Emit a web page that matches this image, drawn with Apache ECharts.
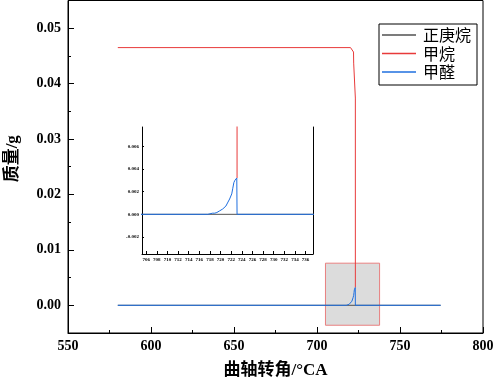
<!DOCTYPE html>
<html><head><meta charset="utf-8">
<script src="https://cdn.jsdelivr.net/npm/echarts@6/dist/echarts.min.js"></script>
<style>html,body{margin:0;padding:0;background:#fff}#c{width:496px;height:386px}</style>
</head><body><div id="c"></div>
<script>
const seriesNames = ['正庚烷', '甲烷', '甲醛'];
const heptane = [[580, 0], [774.5, 0]];
const methane = [[580, 0.0465], [720.2, 0.0465], [721.2, 0.0462], [722.0, 0.0457], [722.1, 0.0437], [723.0, 0.0436], [723.1, 0.0374], [723.1, 0.0032]];
const formaldehyde = [[580, 0], [717.6, 0], [717.6, 0.00007], [718.5, 0.0001], [718.9, 0.0001], [719.3, 0.00016], [719.8, 0.0003], [720.4, 0.00047], [721.0, 0.00073], [721.3, 0.001], [721.7, 0.00135], [722.1, 0.0018], [722.3, 0.0023], [722.5, 0.0028], [722.7, 0.003], [722.85, 0.0031], [723.05, 0.0032], [723.1, 0.0032], [723.1, 0], [774.5, 0]];
const mainYLabels = [0, 0.01, 0.02, 0.03, 0.04, 0.05];
const mainYMinor = [0.005, 0.015, 0.025, 0.035, 0.045];
const insetXLabels = [706, 708, 710, 712, 714, 716, 718, 720, 722, 724, 726, 728, 730, 732, 734, 736];
const insetYLabels = [-0.002, 0, 0.002, 0.004, 0.006];
const zoomBox = [705.1, 737.7, -0.0036, 0.0076];

const colors = ['#505050', '#e83a3a', '#1f6fdf'];
const serif = '"Liberation Serif", "Times New Roman", "Noto Sans CJK SC", serif';
const chart = echarts.init(document.getElementById('c'));
const lineSeries = (name, data, idx, xi, yi) => ({
  name, type: 'line', data, xAxisIndex: xi, yAxisIndex: yi, symbol: 'none', showSymbol: false,
  lineStyle: { color: colors[idx], width: 1 }, itemStyle: { color: colors[idx] },
  animation: false, clip: true, z: 2 + idx
});
const datasets = [heptane, methane, formaldehyde];
const series = [];
datasets.forEach((d, i) => series.push(lineSeries(seriesNames[i], d, i, 0, 0)));
datasets.forEach((d, i) => series.push(lineSeries(seriesNames[i], d, i, 1, 2)));
series.push({
  type: 'line', xAxisIndex: 0, yAxisIndex: 0, data: [[zoomBox[0], zoomBox[3]]], symbol: 'none',
  lineStyle: { opacity: 0 }, z: 10, animation: false,
  markArea: {
    silent: true,
    itemStyle: { color: 'rgba(205,205,205,0.7)', borderColor: '#e88080', borderWidth: 1 },
    data: [[{ coord: [zoomBox[0], zoomBox[3]] }, { coord: [zoomBox[1], zoomBox[2]] }]]
  }
});

chart.setOption({
  animation: false,
  legend: {
    data: seriesNames, orient: 'vertical', left: 379, top: 24, icon: 'rect',
    padding: [3, 6, 5, 3], itemWidth: 34, itemHeight: 1.3, itemGap: 2.5,
    borderColor: '#000', borderWidth: 1, backgroundColor: '#fff',
    textStyle: { fontFamily: '"Noto Sans CJK SC", sans-serif', fontSize: 16, color: '#000', padding: [0, 0, 0, 2] }
  },
  grid: [
    { left: 68, top: 0.5, right: 13, bottom: 53, show: true, borderColor: '#000', borderWidth: 1, backgroundColor: 'transparent', containLabel: false, outerBoundsMode: 'none' },
    { left: 142, top: 127, width: 171, height: 127, containLabel: false, outerBoundsMode: 'none' }
  ],
  xAxis: [
    {
      type: 'value', gridIndex: 0, min: 550, max: 800, interval: 50,
      name: '曲轴转角/°CA', nameLocation: 'middle', nameGap: 29,
      nameTextStyle: { fontFamily: serif, fontWeight: 'bold', fontSize: 17, color: '#000' },
      axisLine: { onZero: false, lineStyle: { color: '#000', width: 1 } },
      axisTick: { inside: true, length: 6, lineStyle: { color: '#000' } },
      minorTick: { show: true, splitNumber: 2, length: 3, lineStyle: { color: '#000' } },
      splitLine: { show: false },
      axisLabel: { fontFamily: serif, fontWeight: 'bold', fontSize: 14, color: '#000', margin: 6 }
    },
    {
      type: 'value', gridIndex: 1, min: 705.2, max: 737.4,
      axisLine: { onZero: false, lineStyle: { color: '#000', width: 1 } },
      axisTick: { inside: true, length: 3, customValues: insetXLabels, lineStyle: { color: '#000' } },
      splitLine: { show: false },
      axisLabel: { customValues: insetXLabels, fontFamily: serif, fontWeight: 'bold', fontSize: 5, color: '#000', margin: 3 }
    }
  ],
  yAxis: [
    {
      type: 'value', gridIndex: 0, min: -0.005, max: 0.055, position: 'left',
      name: '质量/g', nameLocation: 'middle', nameGap: 47,
      nameTextStyle: { fontFamily: serif, fontWeight: 'bold', fontSize: 17, color: '#000', padding: [0, 0, 0, 16] },
      axisLine: { show: true, onZero: false, lineStyle: { color: '#000', width: 1 } },
      axisTick: { inside: true, length: 6, customValues: mainYLabels, lineStyle: { color: '#000' } },
      splitLine: { show: false },
      axisLabel: { customValues: mainYLabels, formatter: v => v.toFixed(2), fontFamily: serif, fontWeight: 'bold', fontSize: 14, color: '#000', margin: 7 }
    },
    {
      type: 'value', gridIndex: 0, min: -0.005, max: 0.055, position: 'left',
      axisLine: { show: false, onZero: false },
      axisTick: { show: true, inside: true, length: 3, customValues: mainYMinor, lineStyle: { color: '#000' } },
      splitLine: { show: false },
      axisLabel: { show: false }
    },
    {
      type: 'value', gridIndex: 1, min: -0.0035, max: 0.0077, position: 'left',
      axisLine: { show: true, onZero: false, lineStyle: { color: '#000', width: 1 } },
      axisTick: { inside: true, length: 2, customValues: insetYLabels, lineStyle: { color: '#000' } },
      splitLine: { show: false },
      axisLabel: { customValues: insetYLabels, formatter: v => v.toFixed(3), fontFamily: serif, fontWeight: 'bold', fontSize: 5, color: '#000', margin: 3 }
    },
    {
      type: 'value', gridIndex: 1, min: -0.0035, max: 0.0077, position: 'right',
      axisLine: { show: true, onZero: false, lineStyle: { color: '#000', width: 1 } },
      axisTick: { show: false }, splitLine: { show: false }, axisLabel: { show: false }
    }
  ],
  series
});
</script></body></html>
